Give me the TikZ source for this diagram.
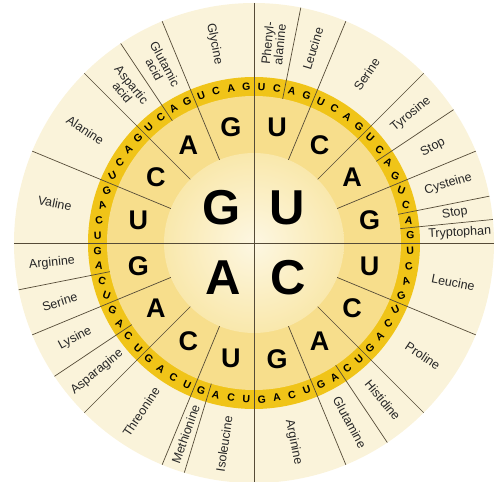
\documentclass[tikz,border=0pt]{standalone}
\usepackage{fontspec}
\setmainfont{Liberation Sans}
\definecolor{wheelouter}{RGB}{250,243,218}
\definecolor{wheelband}{RGB}{240,196,24}
\definecolor{wheelmid}{RGB}{247,222,140}
\definecolor{wheelin}{RGB}{253,247,226}
\definecolor{wheelinedge}{RGB}{249,232,172}
\definecolor{wheelline}{RGB}{85,75,55}
\begin{document}
\begin{tikzpicture}[x=1pt,y=1pt,
  divider/.style={wheelline, line width=0.7pt},
  aalabel/.style={font=\fontsize{12.5}{12}\selectfont, text=black!85, align=center, inner sep=0pt},
  firstbase/.style={font=\fontsize{49}{49}\bfseries\selectfont, inner sep=0pt},
  secondbase/.style={font=\fontsize{27}{27}\bfseries\selectfont, inner sep=0pt},
  thirdbase/.style={font=\fontsize{10.5}{10.5}\bfseries\selectfont, inner sep=0pt}]
  \useasboundingbox (-254,-239) rectangle (247,243);
  \fill[wheelouter] (0,0) circle (240);
  \fill[wheelband] (0,0) circle (166);
  \fill[wheelmid] (0,0) circle (147);
  \shade[inner color=wheelin, outer color=wheelinedge] (0,0) circle (90);
  \foreach \n in {0,...,15} \draw[divider] (90-22.5*\n:90) -- (90-22.5*\n:240);
  \foreach \p in {11.25,56.25,78.75,84.375,146.25,196.875,236.25,258.75,326.25}
    \draw[divider] (90-\p:147) -- (90-\p:240);
  \draw[divider] (90:240) -- (270:240);
  \draw[divider] (0:240) -- (180:240);
  \node[firstbase] (f-U) at (33,35) {U};
  \node[firstbase] (f-C) at (34,-35) {C};
  \node[firstbase] (f-A) at (-31,-35) {A};
  \node[firstbase] (f-G) at (-32,35) {G};
  \foreach \q in {0,...,3}
    \foreach \b [count=\s from 0] in {U,C,A,G}
      \node[secondbase] (s-\q-\s) at ({90-90*\q-22.5*\s-11.25}:118) {\b};
  \foreach \q in {0,...,3}
    \foreach \s in {0,...,3}
      \foreach \b [count=\k from 0] in {U,C,A,G} {
        \pgfmathsetmacro\t{90-90*\q-22.5*\s-5.625*\k-2.8125}
        \node[thirdbase, rotate={-asin(sin(2*\t))/2}] (t-\q-\s-\k) at (\t:156.5) {\b};
      }
  \foreach \name/\a/\b/\r [count=\i] in {
      {Phenyl-\\alanine}/0/11.25/200, Leucine/11.25/22.5/203, Serine/22.5/45/203,
      Tyrosine/45/56.25/203, Stop/56.25/67.5/203, Cysteine/67.5/78.75/203,
      Stop/78.75/84.375/203, Tryptophan/84.375/90/206,
      Leucine/90/112.5/203, Proline/112.5/135/203, Histidine/135/146.25/203,
      Glutamine/146.25/157.5/203, Arginine/157.5/180/203,
      Isoleucine/180/196.875/203, Methionine/196.875/202.5/203, Threonine/202.5/225/203,
      Asparagine/225/236.25/203, Lysine/236.25/247.5/203, Serine/247.5/258.75/203,
      Arginine/258.75/270/203,
      Valine/270/292.5/203, Alanine/292.5/315/203, {Aspartic\\acid}/315/326.25/200,
      {Glutamic\\acid}/326.25/337.5/200, Glycine/337.5/360/203} {
    \pgfmathsetmacro\t{90-(\a+\b)/2}
    \pgfmathsetmacro\rot{(\a+\b)/2<180 ? \t : \t+180}
    \node[aalabel, rotate=\rot] (aa-\i) at (\t:\r) {\name};
  }
\end{tikzpicture}
\end{document}
